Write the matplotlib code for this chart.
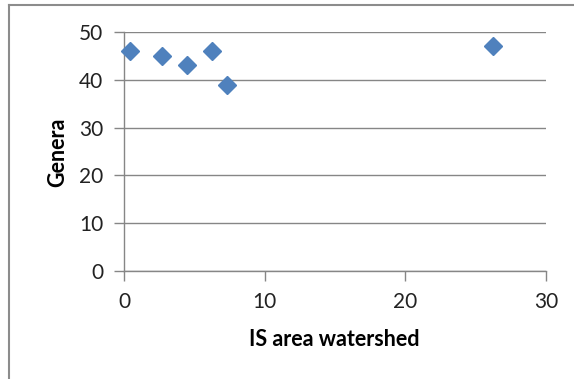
import matplotlib
matplotlib.use("Agg")
import matplotlib.pyplot as plt
from matplotlib.lines import Line2D

is_area = [0.43, 2.68, 4.5, 6.28, 7.3, 26.25]
genera = [46, 45, 43, 46, 39, 47]
x_ticks = [0, 10, 20, 30]
y_ticks = [0, 10, 20, 30, 40, 50]

W, H = 574, 379
fig = plt.figure(figsize=(W / 100, H / 100), dpi=100)
plt.rcParams['font.family'] = ['Lato', 'DejaVu Sans']

ax = fig.add_axes([124 / W, 1 - 271 / H, (546 - 124) / W, (271 - 32) / H])
ax.set_xlim(0, 30)
ax.set_ylim(0, 50)
ax.set_xticks(x_ticks)
ax.set_yticks(y_ticks)
gray = '#868686'
ax.grid(axis='y', color=gray, linewidth=1.0)
ax.set_axisbelow(True)
for s in ['top', 'right']:
    ax.spines[s].set_visible(False)
for s in ['left', 'bottom']:
    ax.spines[s].set_color(gray)
    ax.spines[s].set_linewidth(1.0)
ax.tick_params(axis='both', direction='out', length=7, width=1.0, color=gray,
               labelsize=15, labelcolor='#222222')
ax.tick_params(axis='y', pad=8)
ax.tick_params(axis='x', pad=8)

ax.plot(is_area, genera, linestyle='none', marker='D', markersize=9.5,
        color='#4F81BD', markeredgecolor='#4F81BD', clip_on=False, zorder=3)

fig.text(58 / W, 1 - 152 / H, 'Genera', rotation=90, ha='center', va='center',
         fontsize=15.5, fontweight='bold', color='black')
fig.text(334 / W, 1 - 339 / H, 'IS area watershed', ha='center', va='center',
         fontsize=15.5, fontweight='bold', color='black')

# outer chart frame (partially visible)
fig.add_artist(Line2D([9 / W, 9 / W], [0, 1 - 5 / H], transform=fig.transFigure,
                      color='#8c8c8c', linewidth=1.5))
fig.add_artist(Line2D([9 / W, 1], [1 - 5 / H, 1 - 5 / H], transform=fig.transFigure,
                      color='#8c8c8c', linewidth=1.5))

fig.savefig('out.png', dpi=100)
